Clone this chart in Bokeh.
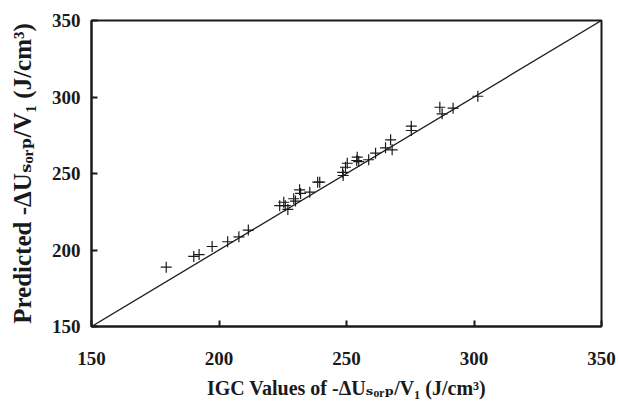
from bokeh.plotting import figure
from bokeh.models import Range1d, FixedTicker
from bokeh.embed import file_html
from bokeh.resources import INLINE

# ---- data ----
igc = [179.3, 190.1, 192.2, 197.3, 203.4, 207.8, 211.5, 223.8, 225.4, 226.0,
       227.0, 229.3, 230.0, 231.6, 232.0, 235.6, 238.7, 239.5, 248.5, 248.7,
       249.6, 250.3, 254.0, 254.2, 254.8, 258.7, 261.4, 265.3, 267.3, 267.9,
       275.4, 275.4, 286.6, 287.5, 291.8, 301.5]
pred = [188.8, 195.8, 197.0, 202.3, 205.4, 208.6, 213.0, 229.0, 231.2, 229.0,
        226.5, 233.5, 232.0, 239.3, 237.0, 237.8, 244.3, 244.3, 250.8, 248.7,
        254.1, 256.7, 258.5, 260.7, 257.8, 259.0, 263.3, 266.8, 272.0, 265.5,
        280.9, 278.1, 293.3, 289.0, 292.7, 300.5]
diag = [150, 350]
ticks = [150, 200, 250, 300, 350]
x_title = "IGC Values of -ΔUₛₒᵣₚ/V₁ (J/cm³)"
y_title = "Predicted -ΔUₛₒᵣₚ/V₁ (J/cm³)"

FONT = "'Liberation Serif', 'DejaVu Serif', serif"
INK = "#1a1a1a"

W, H = 618, 403
BL, BR, BT, BB = 91, 17, 20, 77

p = figure(width=W, height=H, output_backend="svg", toolbar_location=None,
           x_range=Range1d(150, 350), y_range=Range1d(150, 350),
           min_border_left=BL, min_border_right=BR, min_border_top=BT,
           min_border_bottom=BB)
p.grid.visible = False
p.background_fill_color = "white"
p.border_fill_color = "white"
p.outline_line_color = INK
p.outline_line_width = 2
p.outline_line_alpha = 1

for ax in (p.xaxis[0], p.yaxis[0]):
    ax.ticker = FixedTicker(ticks=ticks)
    ax.minor_tick_line_color = None
    ax.major_tick_in = 6
    ax.major_tick_out = 0
    ax.major_tick_line_color = INK
    ax.major_tick_line_width = 2
    ax.axis_line_color = INK
    ax.axis_line_width = 2
    ax.major_label_text_font = FONT
    ax.major_label_text_font_size = "19px"
    ax.major_label_text_font_style = "bold"
    ax.major_label_text_color = INK
    ax.axis_label_text_font = FONT
    ax.axis_label_text_font_style = "bold"
    ax.axis_label_text_color = INK

p.xaxis.major_label_standoff = 25
p.yaxis.major_label_standoff = 11
p.xaxis.axis_label = x_title
p.yaxis.axis_label = y_title
p.xaxis.axis_label_text_font_size = "20px"
p.yaxis.axis_label_text_font_size = "25px"
p.xaxis.axis_label_standoff = 9
p.yaxis.axis_label_standoff = 13

p.line(diag, diag, line_color=INK, line_width=1.3)
p.scatter(igc, pred, marker="cross", size=11, line_color=INK, line_width=1.2)

open("out.html", "w").write(file_html(p, INLINE))
